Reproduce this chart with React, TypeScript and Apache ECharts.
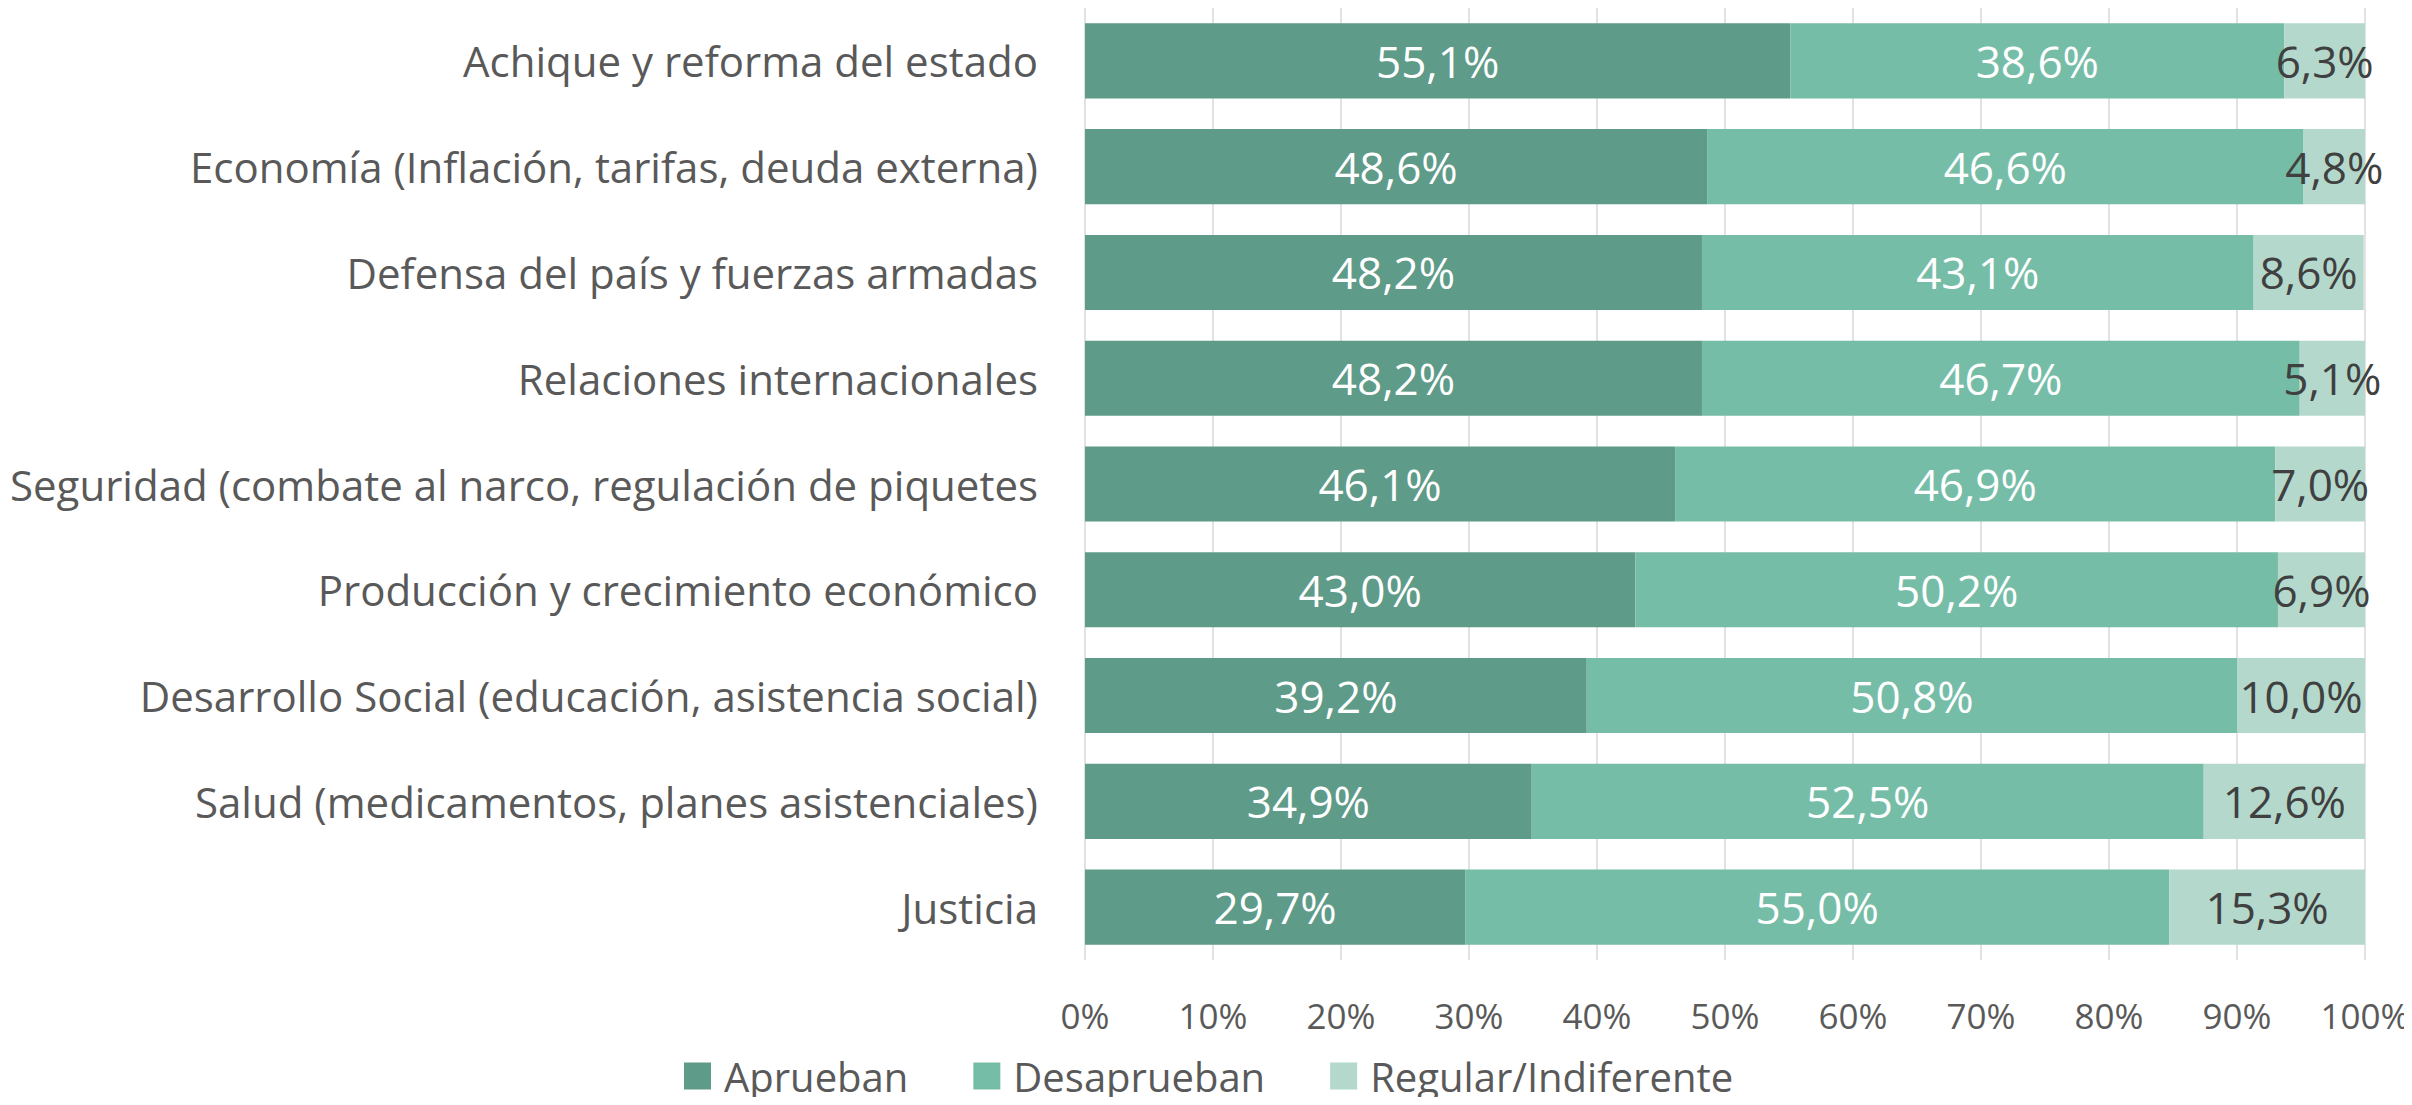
import React, { useEffect, useRef } from "react";
import * as echarts from "echarts";

const categories = [
  "Achique y reforma del estado",
  "Economía (Inflación, tarifas, deuda externa)",
  "Defensa del país y fuerzas armadas",
  "Relaciones internacionales",
  "Seguridad (combate al narco, regulación de piquetes",
  "Producción y crecimiento económico",
  "Desarrollo Social (educación, asistencia social)",
  "Salud (medicamentos, planes asistenciales)",
  "Justicia",
];
const aprueban = [55.1, 48.6, 48.2, 48.2, 46.1, 43.0, 39.2, 34.9, 29.7];
const desaprueban = [38.6, 46.6, 43.1, 46.7, 46.9, 50.2, 50.8, 52.5, 55.0];
const regular = [6.3, 4.8, 8.6, 5.1, 7.0, 6.9, 10.0, 12.6, 15.3];
const seriesNames = ["Aprueban", "Desaprueban", "Regular/Indiferente"];
const xTicks = [0, 10, 20, 30, 40, 50, 60, 70, 80, 90, 100];

const FONT = "'Open Sans', sans-serif";

export default function App() {
  const ref = useRef<HTMLDivElement>(null);
  useEffect(() => {
    if (!ref.current) return;
    const chart = echarts.init(ref.current, undefined, { renderer: "svg" });
    const fmt = (p: any) => p.value.toFixed(1).replace(".", ",") + "%";
    const mk = (name: string, data: number[], color: string, labelColor: string) => ({
      name,
      type: "bar",
      stack: "total",
      data,
      barWidth: "71%",
      itemStyle: { color },
      label: {
        show: true,
        position: "inside",
        formatter: fmt,
        color: labelColor,
        fontSize: 44,
        fontFamily: FONT,
      },
    });
    chart.setOption({
      animation: false,
      textStyle: { fontFamily: FONT },
      grid: {
        left: 1085,
        right: 47,
        top: 8,
        bottom: 145,
        containLabel: false,
        outerBoundsMode: "none",
      },
      legend: {
        data: seriesNames,
        left: 684,
        top: 1056,
        padding: 0,
        itemWidth: 27,
        itemHeight: 27,
        itemGap: 65,
        icon: "rect",
        textStyle: {
          fontSize: 40,
          lineHeight: 40,
          color: "#595959",
          fontFamily: FONT,
          padding: [0, 0, 0, 8],
        },
      },
      xAxis: {
        type: "value",
        min: 0,
        max: 100,
        interval: 10,
        axisLine: { show: false },
        axisTick: { show: false },
        splitLine: { show: true, lineStyle: { color: "#D9D9D9", width: 1.5 } },
        axisLabel: {
          formatter: (v: number) => (xTicks.includes(v) ? v + "%" : ""),
          fontSize: 35,
          color: "#595959",
          margin: 38,
          fontFamily: FONT,
        },
      },
      yAxis: {
        type: "category",
        data: categories,
        inverse: true,
        axisLine: { show: false },
        axisTick: { show: false },
        axisLabel: {
          fontSize: 42,
          color: "#595959",
          margin: 47,
          fontFamily: FONT,
        },
      },
      series: [
        mk(seriesNames[0], aprueban, "#5F9B89", "#FFFFFF"),
        mk(seriesNames[1], desaprueban, "#76BDA8", "#FFFFFF"),
        mk(seriesNames[2], regular, "#B5D8CC", "#404040"),
      ],
    });
    return () => chart.dispose();
  }, []);
  return <div ref={ref} style={{ width: 2412, height: 1105, margin: -8 }} />;
}
